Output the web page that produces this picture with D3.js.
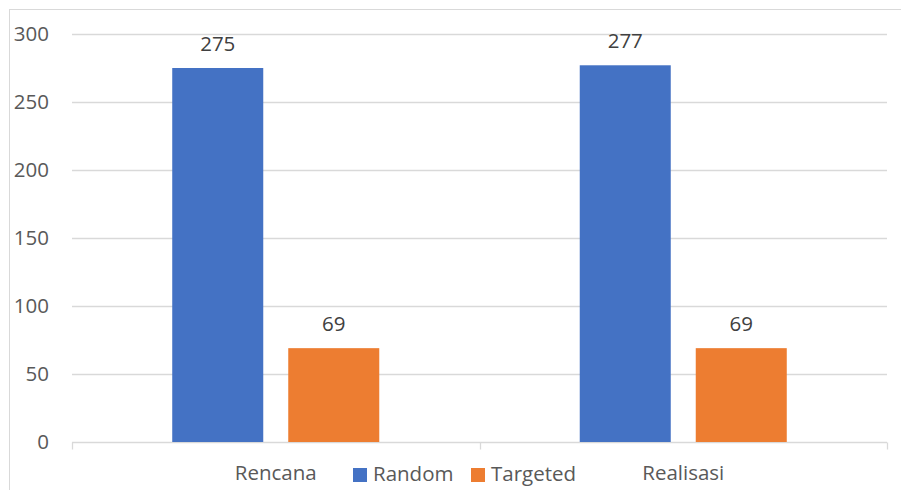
<!DOCTYPE html>
<html><head><meta charset="utf-8">
<script src="https://cdn.jsdelivr.net/npm/d3@7"></script>
<style>body{margin:0;background:#fff}svg{display:block}text{font-family:"Open Sans","Noto Sans",sans-serif;fill:#595959}</style>
</head><body>
<svg id="c" width="901" height="490"></svg>
<script>
const categories = ["Rencana", "Realisasi"];
const seriesNames = ["Random", "Targeted"];
const randomValues = [275, 277];
const targetedValues = [69, 69];
const yTicks = [0, 50, 100, 150, 200, 250, 300];
const colors = ["#4472C4", "#ED7D31"];

(function () {
const svg = d3.select("#c");
const pLeft = 72, pRight = 887, pTop = 34, pBottom = 442;
const fs = 20.5;

// chart frame
svg.append("rect").attr("x", 9.5).attr("y", 9.5).attr("width", 900).attr("height", 490)
  .attr("fill", "none").attr("stroke", "#d9d9d9").attr("stroke-width", 1);

const x = d3.scaleBand().domain(categories).range([pLeft, pRight]);
const y = d3.scaleLinear().domain([0, 300]).range([pBottom, pTop]);

// gridlines
svg.append("g").selectAll("line").data(yTicks.filter(d => d > 0)).join("line")
  .attr("x1", pLeft).attr("x2", pRight)
  .attr("y1", d => Math.round(y(d)) + 0.5).attr("y2", d => Math.round(y(d)) + 0.5)
  .attr("stroke", "#d9d9d9").attr("stroke-width", 1.3);

// y tick labels
svg.append("g").selectAll("text").data(yTicks).join("text")
  .attr("x", 49).attr("y", d => y(d)).attr("dy", "0.36em")
  .attr("text-anchor", "end").attr("font-size", fs).text(d => d);

// x axis line + ticks
const xa = svg.append("g").attr("transform", `translate(0,${pBottom + 0.5})`);
xa.append("line").attr("x1", pLeft).attr("x2", pRight).attr("stroke", "#d9d9d9").attr("stroke-width", 1.3);
const tickPos = [pLeft, x(categories[1]), pRight];
xa.selectAll("line.t").data(tickPos).join("line").attr("class", "t")
  .attr("x1", d => Math.round(d) + 0.5).attr("x2", d => Math.round(d) + 0.5)
  .attr("y1", 0).attr("y2", 7).attr("stroke", "#d9d9d9").attr("stroke-width", 1.3);

// bars
const inner = d3.scaleBand().domain(seriesNames).range([0, x.bandwidth()]).paddingInner(0.2155).paddingOuter(0.864);
const data = [];
categories.forEach((c, i) => {
  data.push({c, s: seriesNames[0], v: randomValues[i]});
  data.push({c, s: seriesNames[1], v: targetedValues[i]});
});
const g = svg.append("g");
g.selectAll("rect").data(data).join("rect")
  .attr("x", d => x(d.c) + inner(d.s)).attr("width", inner.bandwidth())
  .attr("y", d => y(d.v)).attr("height", d => y(0) - y(d.v))
  .attr("fill", d => colors[seriesNames.indexOf(d.s)]);
g.selectAll("text").data(data).join("text")
  .attr("x", d => x(d.c) + inner(d.s) + inner.bandwidth() / 2)
  .attr("y", d => y(d.v) - 17).attr("text-anchor", "middle").attr("font-size", fs)
  .style("fill", "#404040").text(d => d.v);

// category labels
svg.append("g").selectAll("text").data(categories).join("text")
  .attr("x", d => x(d) + x.bandwidth() / 2).attr("y", 480)
  .attr("text-anchor", "middle").attr("font-size", fs).text(d => d);

// legend
const legX = [353, 471];
const lg = svg.append("g").selectAll("g").data(seriesNames).join("g")
  .attr("transform", (d, i) => `translate(${legX[i]},0)`);
lg.append("rect").attr("x", 0).attr("y", 468).attr("width", 14).attr("height", 14)
  .attr("fill", (d, i) => colors[i]);
lg.append("text").attr("x", 20).attr("y", 481).attr("font-size", fs).text(d => d);
})();
</script>
</body></html>
